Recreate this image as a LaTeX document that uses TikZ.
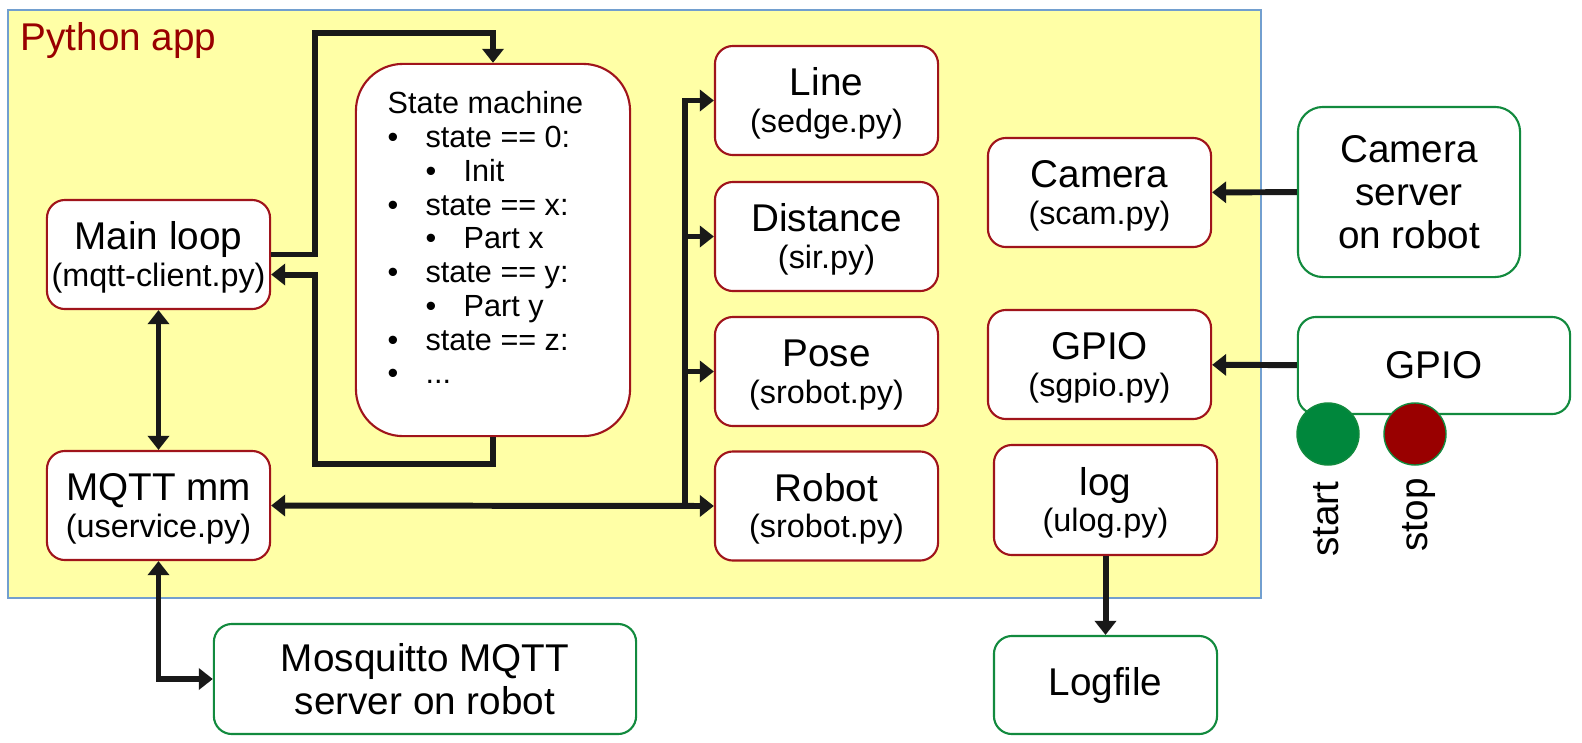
\documentclass[tikz,border=0pt]{standalone}
\usepackage{fontspec}
\setmainfont{Liberation Sans}
\usepackage{tikz}
\usepackage{xcolor}
\usetikzlibrary{arrows.meta}

\definecolor{appyellow}{HTML}{FFFFA6}
\definecolor{appblue}{HTML}{729FCF}
\definecolor{modred}{HTML}{A0141B}
\definecolor{extgreen}{HTML}{128A3E}
\definecolor{startgreen}{HTML}{00873C}
\definecolor{stopred}{HTML}{990000}

\newcommand{\smitem}{\makebox[10.8pt][l]{\textbullet}}
\newcommand{\smsubitem}{\hspace*{10.8pt}\makebox[10.8pt][l]{\textbullet}}
\newcommand{\modname}[2]{\rule{0pt}{9.7pt}#1\\{\fontsize{9.2pt}{10.4pt}\selectfont(#2)}}

\begin{document}
\begin{tikzpicture}[x=0.01cm,y=-0.01cm,
  module/.style={draw=modred,fill=white,line width=0.6pt,rounded corners=0.18cm,
    align=center,inner sep=0pt,minimum width=2.23cm,minimum height=1.09cm,
    font=\fontsize{11pt}{10.4pt}\selectfont},
  extbox/.style={module,draw=extgreen,font=\fontsize{11pt}{12.2pt}\selectfont},
  button/.style={circle,inner sep=0pt,minimum size=0.62cm,draw=extgreen,line width=0.4pt},
  arr/.style={line width=1.7pt,color=black!90,-{Triangle[length=4pt,width=6pt]}},
  arrboth/.style={arr,{Triangle[length=4pt,width=6pt]}-{Triangle[length=4pt,width=6pt]}}]
\useasboundingbox (0,0) rectangle (1582,742);

% the python application
\draw[fill=appyellow,draw=appblue,line width=0.5pt] (8,10) rectangle (1261,598);
\node[anchor=west,inner sep=0pt,text=stopred,font=\fontsize{11pt}{11pt}\selectfont] (title) at (20,40) {Python app};

\node[module] (main) at (158.5,254.5) {\modname{Main loop}{mqtt-client.py}};
\node[module] (mqtt) at (158.5,505.5) {\modname{MQTT mm}{uservice.py}};
\node[module,rounded corners=0.47cm,minimum width=2.74cm,minimum height=3.72cm] (sm) at (493,250) {};
\node[anchor=north west,inner sep=0pt,align=left,font=\fontsize{8.7pt}{9.6pt}\selectfont] (smtext) at (387,91)
  {State machine\\
   \smitem state == 0:\\
   \smsubitem Init\\
   \smitem state == x:\\
   \smsubitem Part x\\
   \smitem state == y:\\
   \smsubitem Part y\\
   \smitem state == z:\\
   \smitem ...};

\node[module] (line) at (826.5,100.5) {\modname{Line}{sedge.py}};
\node[module] (dist) at (826.5,236.5) {\modname{Distance}{sir.py}};
\node[module] (pose) at (826.5,371.5) {\modname{Pose}{srobot.py}};
\node[module] (robot) at (826.5,506) {\modname{Robot}{srobot.py}};

\node[module] (cam) at (1099.5,192.5) {\modname{Camera}{scam.py}};
\node[module] (gpio) at (1099.5,364.5) {\modname{GPIO}{sgpio.py}};
\node[module,minimum height=1.1cm] (log) at (1105.5,500) {\modname{log}{ulog.py}};

% outside the app
\node[extbox,minimum width=4.22cm,minimum height=1.1cm] (mosq) at (425,679) {Mosquitto MQTT\\server on robot};
\node[extbox,minimum height=0.98cm] (logfile) at (1105.5,685) {Logfile};
\node[extbox,rounded corners=0.25cm,minimum width=2.22cm,minimum height=1.7cm] (camsrv) at (1409,192) {Camera\\server\\on robot};
\node[extbox,minimum width=2.72cm,minimum height=0.97cm] (gpiohw) at (1434,365.5) {GPIO};
\node[button,fill=startgreen] (start) at (1328,434) {};
\node[button,fill=stopred] (stop) at (1415,434) {};
\node[rotate=90,anchor=base,inner sep=0pt,font=\fontsize{11pt}{11pt}\selectfont] (starttxt) at (1338,519) {start};
\node[rotate=90,anchor=base,inner sep=0pt,font=\fontsize{11pt}{11pt}\selectfont] (stoptxt) at (1427,515) {stop};

% connectors
\coordinate (smin) at (315,33);
\coordinate (smout) at (315,464);
\coordinate (bus) at (685,506);
\draw[arr] (main.east) -| (smin) -| (sm.north);
\draw[arr] (sm.south) |- (smout) |- ([yshift=-0.2cm]main.east);
\draw[arrboth] (main) -- (mqtt);
\draw[arrboth] (mqtt.south) |- (mosq.west);
\draw[arrboth] (mqtt.east) -- (robot.west);
\draw[arr] (bus) |- (line.west);
\draw[arr] (bus) |- (dist.west);
\draw[arr] (bus) |- (pose.west);
\draw[arr] (camsrv) -- (cam);
\draw[arr] (gpiohw) -- (gpio);
\draw[arr] (log) -- (logfile);
\end{tikzpicture}
\end{document}
